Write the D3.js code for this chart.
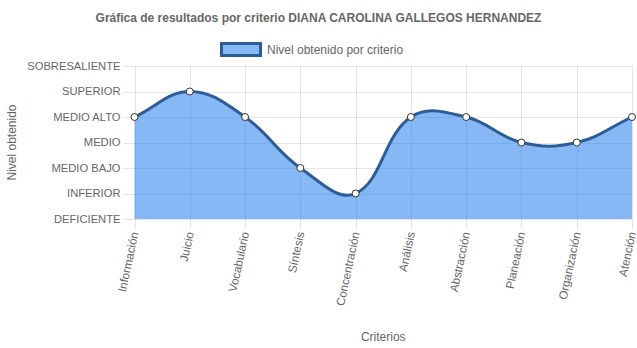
<!DOCTYPE html>
<html>
<head>
<meta charset="utf-8">
<script src="https://cdn.jsdelivr.net/npm/d3@7/dist/d3.min.js"></script>
<style>
  html, body { margin: 0; padding: 0; background: #fff; }
  svg { display: block; font-family: "Helvetica Neue", Helvetica, Arial, "Liberation Sans", sans-serif; }
</style>
</head>
<body>
<svg id="chart" width="637" height="348"></svg>
<script>
// Criteria evaluated and the level reached in each one (0 = DEFICIENTE … 6 = SOBRESALIENTE)
const criterios = ["Información", "Juicio", "Vocabulario", "Síntesis", "Concentración",
                   "Análisis", "Abstracción", "Planeación", "Organización", "Atención"];
const niveles = [4, 5, 4, 2, 1, 4, 4, 3, 3, 4];
const nivelLabels = ["DEFICIENTE", "INFERIOR", "MEDIO BAJO", "MEDIO", "MEDIO ALTO", "SUPERIOR", "SOBRESALIENTE"];

const titulo = "Gráfica de resultados por criterio DIANA CAROLINA GALLEGOS HERNANDEZ";
const serieNombre = "Nivel obtenido por criterio";
const ejeY = "Nivel obtenido";
const ejeX = "Criterios";

const W = 637, H = 348;
const plot = { left: 134.5, right: 632, top: 66, bottom: 219 };
const textColor = "#666";
const gridColor = "rgba(0,0,0,0.1)";
const fillColor = "rgba(25,118,238,0.52)";
const lineColor = "#2d5d97";
const yTickFont = 11.2;
const xTickFont = 11.7;

const svg = d3.select("#chart");

const x = d3.scalePoint().domain(criterios).range([plot.left, plot.right]);
const y = d3.scaleLinear().domain([0, nivelLabels.length - 1]).range([plot.bottom, plot.top]);

// Spline with tension 0.4, control points scaled by neighbour distances
function TensionSpline(context) { this._context = context; }
TensionSpline.prototype = {
  areaStart() { this._line = 0; },
  areaEnd() { this._line = NaN; },
  lineStart() { this._pts = []; },
  point(px, py) { this._pts.push([+px, +py]); },
  lineEnd() {
    const p = this._pts, n = p.length, ctx = this._context, t = 0.4;
    if (n) {
      if (this._line) ctx.lineTo(p[0][0], p[0][1]); else ctx.moveTo(p[0][0], p[0][1]);
      const cp = p.map((cur, i) => {
        const prev = p[Math.max(0, i - 1)], next = p[Math.min(n - 1, i + 1)];
        const d01 = Math.hypot(cur[0] - prev[0], cur[1] - prev[1]);
        const d12 = Math.hypot(next[0] - cur[0], next[1] - cur[1]);
        let s01 = d01 / (d01 + d12), s12 = d12 / (d01 + d12);
        if (!isFinite(s01)) s01 = 0;
        if (!isFinite(s12)) s12 = 0;
        const fa = t * s01, fb = t * s12;
        const clampY = v => Math.max(plot.top, Math.min(plot.bottom, v));
        return {
          prev: [cur[0] - fa * (next[0] - prev[0]), clampY(cur[1] - fa * (next[1] - prev[1]))],
          next: [cur[0] + fb * (next[0] - prev[0]), clampY(cur[1] + fb * (next[1] - prev[1]))]
        };
      });
      for (let i = 1; i < n; i++) {
        ctx.bezierCurveTo(cp[i - 1].next[0], cp[i - 1].next[1], cp[i].prev[0], cp[i].prev[1], p[i][0], p[i][1]);
      }
    }
    if (this._line || (this._line !== 0 && n === 1)) ctx.closePath();
    this._line = 1 - this._line;
  }
};
const tensionSpline = context => new TensionSpline(context);

// Title
svg.append("text")
  .attr("x", W / 2).attr("y", 22)
  .attr("text-anchor", "middle")
  .attr("font-size", 12).attr("font-weight", "bold")
  .attr("fill", textColor)
  .text(titulo);

// Legend
const legend = svg.append("g");
legend.append("rect")
  .attr("x", 221.5).attr("y", 43.5).attr("width", 39).attr("height", 12)
  .attr("fill", fillColor).attr("stroke", lineColor).attr("stroke-width", 3);
legend.append("text")
  .attr("x", 267).attr("y", 54)
  .attr("font-size", 12).attr("fill", textColor)
  .text(serieNombre);

// Grid
const grid = svg.append("g").attr("stroke", gridColor).attr("stroke-width", 1);
d3.range(nivelLabels.length).forEach(v => {
  grid.append("line")
    .attr("x1", plot.left - 11).attr("x2", plot.right)
    .attr("y1", Math.round(y(v)) + 0.5).attr("y2", Math.round(y(v)) + 0.5);
});
criterios.forEach(c => {
  grid.append("line")
    .attr("x1", Math.round(x(c)) + 0.5).attr("x2", Math.round(x(c)) + 0.5)
    .attr("y1", plot.top).attr("y2", plot.bottom + 10);
});

// Y tick labels
svg.append("g").selectAll("text").data(nivelLabels).join("text")
  .attr("x", plot.left - 14).attr("y", (d, i) => y(i))
  .attr("dy", "0.35em")
  .attr("text-anchor", "end")
  .attr("font-size", yTickFont).attr("fill", textColor)
  .text(d => d);

// X tick labels (rotated)
svg.append("g").selectAll("text").data(criterios).join("text")
  .attr("transform", d => `translate(${x(d)},${plot.bottom + 13}) rotate(-78)`)
  .attr("dy", "0.35em")
  .attr("text-anchor", "end")
  .attr("font-size", xTickFont).attr("fill", textColor)
  .text(d => d);

// Axis titles
svg.append("text")
  .attr("transform", `translate(16,${(plot.top + plot.bottom) / 2}) rotate(-90)`)
  .attr("text-anchor", "middle")
  .attr("font-size", 12).attr("fill", textColor)
  .text(ejeY);
svg.append("text")
  .attr("x", (plot.left + plot.right) / 2).attr("y", 341)
  .attr("text-anchor", "middle")
  .attr("font-size", 12).attr("fill", textColor)
  .text(ejeX);

// Area + line
const data = criterios.map((c, i) => ({ c, v: niveles[i] }));
svg.append("path")
  .datum(data)
  .attr("fill", fillColor)
  .attr("d", d3.area().x(d => x(d.c)).y0(y(0)).y1(d => y(d.v)).curve(tensionSpline));
svg.append("path")
  .datum(data)
  .attr("fill", "none").attr("stroke", lineColor).attr("stroke-width", 3)
  .attr("d", d3.line().x(d => x(d.c)).y(d => y(d.v)).curve(tensionSpline));

// Points
svg.append("g").selectAll("circle").data(data).join("circle")
  .attr("cx", d => x(d.c)).attr("cy", d => y(d.v)).attr("r", 3.5)
  .attr("fill", "#fff").attr("stroke", "#333").attr("stroke-width", 1);
</script>
</body>
</html>
